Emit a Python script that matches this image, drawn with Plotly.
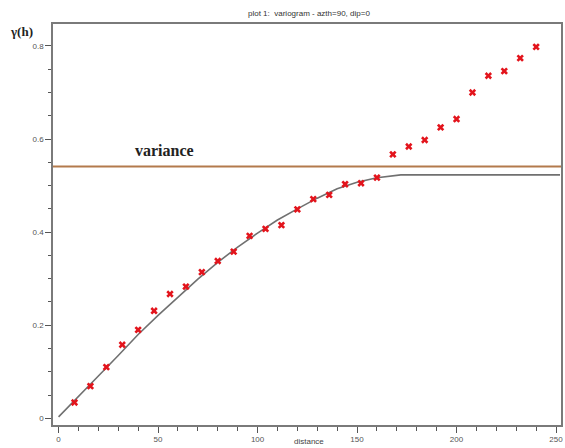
import plotly.graph_objects as go

# Experimental variogram (lag distance, semivariance)
lag_distance = [8, 16, 24, 32, 40, 48, 56, 64, 72, 80, 88, 96, 104, 112, 120,
                128, 136, 144, 152, 160, 168, 176, 184, 192, 200, 208, 216, 224, 232, 240]
semivariance = [0.034, 0.069, 0.110, 0.158, 0.190, 0.231, 0.267, 0.283, 0.314, 0.338,
                0.358, 0.392, 0.407, 0.415, 0.449, 0.471, 0.480, 0.503, 0.505, 0.517,
                0.567, 0.584, 0.598, 0.625, 0.643, 0.700, 0.736, 0.746, 0.774, 0.798]

# Fitted model curve
model_distance = [0, 10, 20, 30, 40, 50, 60, 70, 80, 90, 100, 110, 120, 130, 140,
                  150, 160, 172, 252]
model_gamma = [0.003, 0.046, 0.091, 0.135, 0.180, 0.221, 0.261, 0.299, 0.335, 0.368,
               0.398, 0.426, 0.450, 0.473, 0.493, 0.507, 0.517, 0.523, 0.523]

# Sample variance
variance = 0.541

x_range = [-2.8, 252.5]
y_range = [-0.0144, 0.8472]

x_ticks = [0, 50, 100, 150, 200, 250]
y_ticks = [0, 0.2, 0.4, 0.6, 0.8]
y_tick_text = ["0", "0.2", "0.4", "0.6", "0.8"]

fig = go.Figure()

fig.add_trace(go.Scatter(
    x=x_range, y=[variance, variance], mode="lines",
    line=dict(color="#b37a4c", width=2), hoverinfo="skip"))

fig.add_trace(go.Scatter(
    x=model_distance, y=model_gamma, mode="lines",
    line=dict(color="#707070", width=1.6)))

fig.add_trace(go.Scatter(
    x=lag_distance, y=semivariance, mode="markers",
    marker=dict(symbol="x", size=6.5, color="#e3141c", line=dict(width=0))))

axis_common = dict(
    showgrid=False, zeroline=False, showline=True, mirror=True,
    linecolor="#7a7a7a", linewidth=1.5, ticks="outside", tickcolor="#555",
    ticklen=6, tickwidth=1,
    tickfont=dict(family="Liberation Sans", size=8, color="#555"),
)

fig.update_xaxes(range=x_range, tickvals=x_ticks,
                 minor=dict(dtick=10, ticklen=4, tickcolor="#555", ticks="outside"),
                 **axis_common)
fig.update_yaxes(range=y_range, tickvals=y_ticks, ticktext=y_tick_text,
                 minor=dict(dtick=0.05, ticklen=3, tickcolor="#555", ticks="outside"),
                 **axis_common)

fig.add_annotation(text="plot 1:  variogram - azth=90, dip=0",
                   xref="paper", yref="paper", x=0.504, y=1.027,
                   xanchor="center", yanchor="middle", showarrow=False,
                   font=dict(family="Liberation Sans", size=8, color="#333"))
fig.add_annotation(text="<b>γ(h)</b>", xref="paper", yref="paper",
                   x=-0.062, y=0.981, xanchor="center", yanchor="middle",
                   showarrow=False,
                   font=dict(family="Liberation Serif", size=13, color="#222"))
fig.add_annotation(text="<b>variance</b>", xref="x", yref="y",
                   x=53, y=0.576, xanchor="center", yanchor="middle",
                   showarrow=False,
                   font=dict(family="Liberation Serif", size=16, color="#222"))
fig.add_annotation(text="distance", xref="paper", yref="paper",
                   x=0.504, y=-0.0574, xanchor="center", yanchor="bottom",
                   showarrow=False,
                   font=dict(family="Liberation Sans", size=8, color="#444"))

fig.update_layout(
    width=565, height=448,
    margin=dict(l=53, r=2, t=24, b=23),
    paper_bgcolor="white", plot_bgcolor="white",
    showlegend=False,
)

fig.write_html("out.html")
